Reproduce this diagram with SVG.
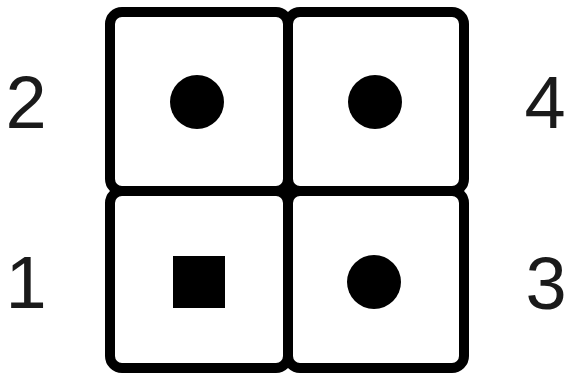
<svg xmlns="http://www.w3.org/2000/svg" width="568" height="374" viewBox="0 0 568 374">
<style>
.cell{fill:#fff;stroke:#000;stroke-width:10}
.dot{fill:#000}
.lbl{font-family:"Liberation Sans",Arial,sans-serif;font-size:74px;fill:#1a1a1a;text-anchor:middle}
</style>
<rect width="568" height="374" fill="#fff"/>
<g id="pin2"><rect class="cell" x="110" y="12" width="178" height="179" rx="12"/><circle class="dot" cx="197" cy="102" r="27"/></g>
<g id="pin4"><rect class="cell" x="288" y="12" width="176" height="179" rx="12"/><circle class="dot" cx="375" cy="102" r="27"/></g>
<g id="pin1"><rect class="cell" x="110" y="191" width="178" height="177" rx="12"/><rect class="dot" x="173" y="256" width="52" height="52"/></g>
<g id="pin3"><rect class="cell" x="288" y="191" width="176" height="177" rx="12"/><circle class="dot" cx="374" cy="282" r="27"/></g>
<g id="labels">
<text class="lbl" x="26" y="128">2</text>
<text class="lbl" x="26" y="308">1</text>
<text class="lbl" x="545" y="128">4</text>
<text class="lbl" x="546" y="309">3</text>
</g>
<g id="connectors"/>
</svg>
